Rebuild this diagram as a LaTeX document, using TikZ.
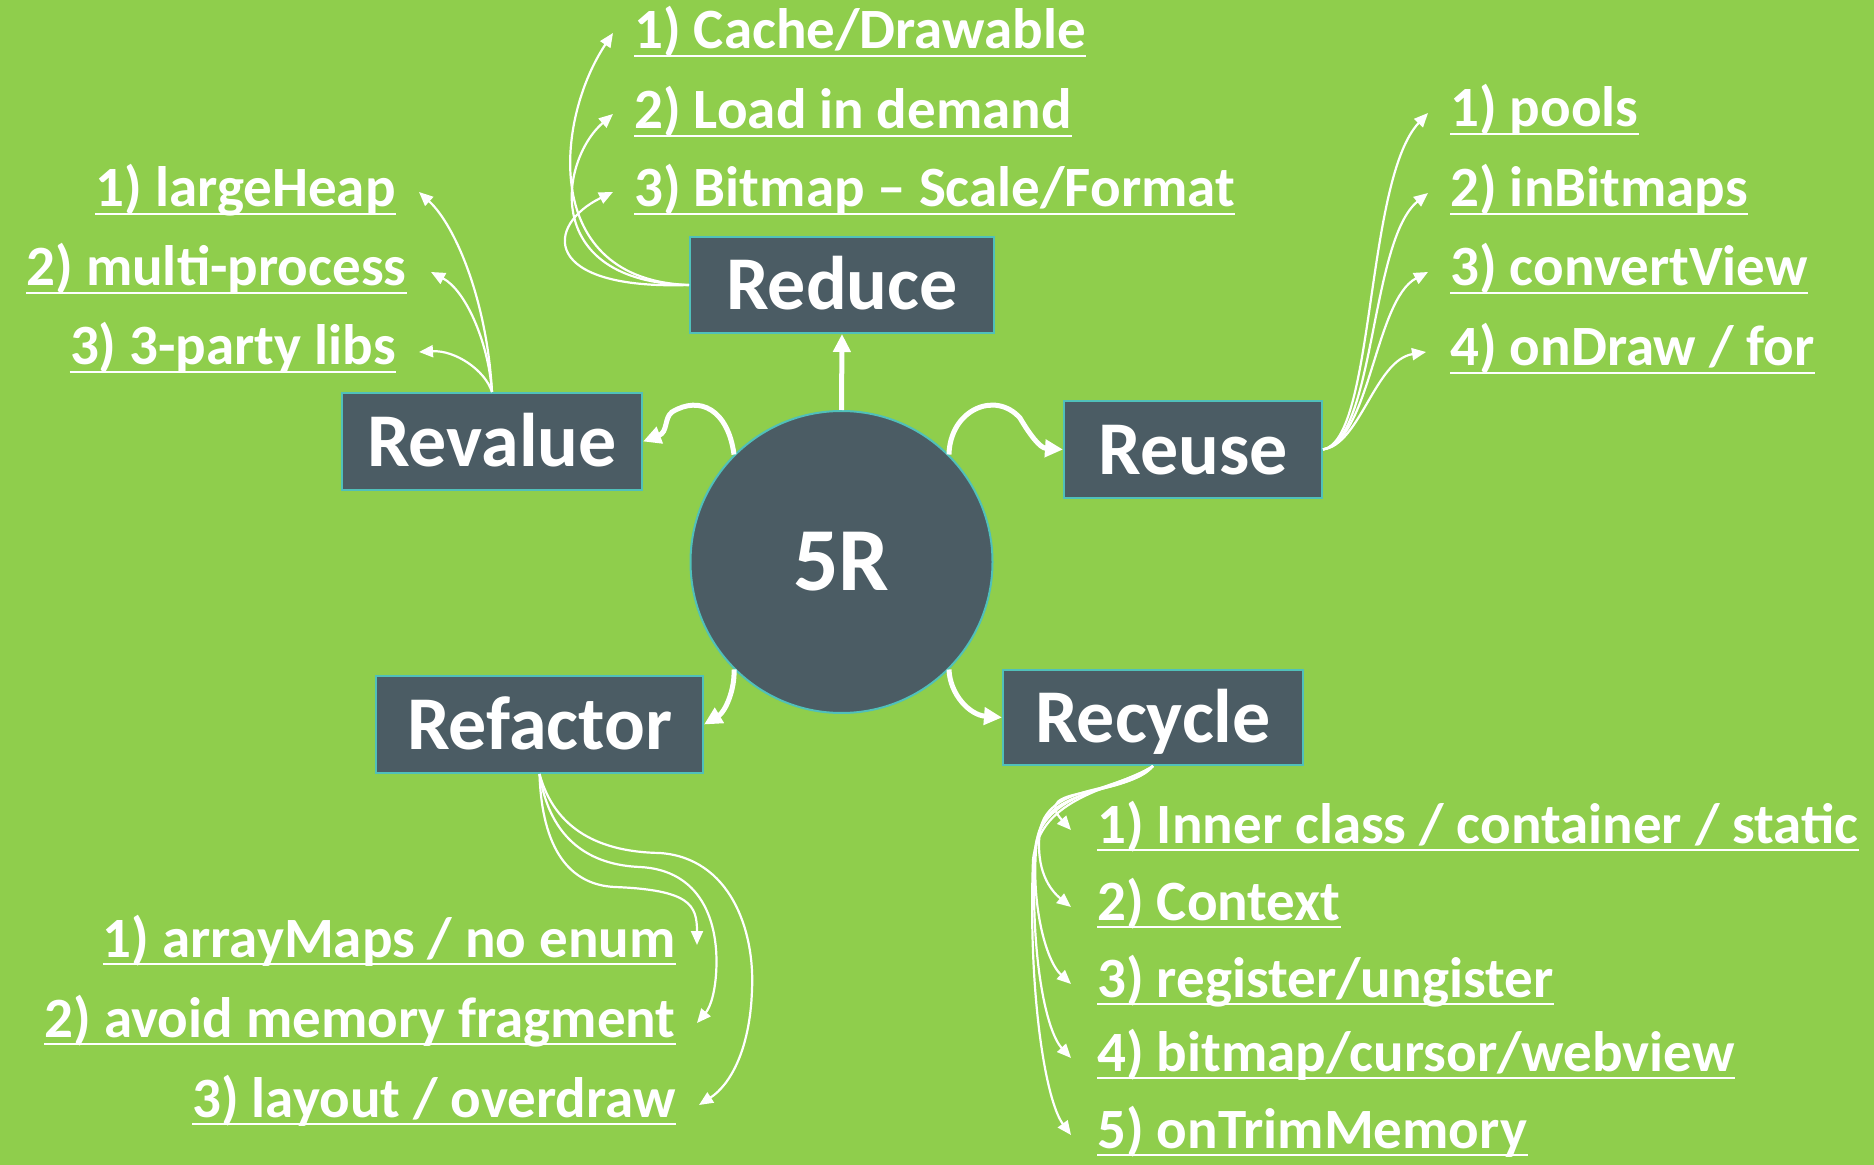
\documentclass[tikz,border=0pt]{standalone}
\usepackage{fontspec}
\setmainfont{Carlito}
\usetikzlibrary{arrows.meta,calc}

\definecolor{bg}{RGB}{143,206,76}
\definecolor{slate}{RGB}{75,92,100}
\definecolor{rim}{RGB}{80,192,186}

\begin{document}
\begin{tikzpicture}[x=0.5pt,y=-0.5pt,
  box/.style={draw=rim, line width=1pt, fill=slate, text=white, inner sep=0pt,
    font=\fontsize{38}{40}\selectfont\bfseries, text height=25pt, text depth=0pt},
  hub/.style={circle, draw=rim, line width=1pt, fill=slate, text=white, inner sep=0pt,
    minimum size=151pt, font=\fontsize{45}{48}\selectfont\bfseries, text height=29pt, text depth=0pt},
  item/.style={inner sep=0pt, text=white, font=\fontsize{28.5}{30}\selectfont\bfseries},
  uline/.style={white, line width=1.3pt},
  link/.style={white, line width=1.1pt, -{Triangle[length=7pt,width=6pt]}},
  spoke/.style={white, line width=2.5pt, -{Triangle[length=9pt,width=8.5pt]}}]

\fill[bg] (0,0) rectangle (1874,1165);
\useasboundingbox (0,0) rectangle (1874,1165);

% centre and the five branches
\node[hub] (hub) at (841.5,562) {5R};
\node[box, minimum width=152pt, minimum height=48pt] (reduce) at (842,285) {Reduce};
\node[box, minimum width=150pt, minimum height=48.5pt] (revalue) at (492,441.5) {Revalue};
\node[box, minimum width=129pt, minimum height=48.5pt] (reuse) at (1193,449.5) {Reuse};
\node[box, minimum width=163.5pt, minimum height=48.5pt] (refactor) at (539.5,724.5) {Refactor};
\node[box, minimum width=150pt, minimum height=47.5pt] (recycle) at (1153,717.5) {Recycle};

% Reduce items
\node[item, anchor=base west] (rd1) at (634,49) {1) Cache/Drawable};
\node[item, anchor=base west] (rd2) at (634,129) {2) Load in demand};
\node[item, anchor=base west] (rd3) at (634,207) {3) Bitmap – Scale/Format};
% Revalue items
\node[item, anchor=base east] (rv1) at (396,207) {1) largeHeap};
\node[item, anchor=base east] (rv2) at (407,286) {2) multi-process};
\node[item, anchor=base east] (rv3) at (396,365) {3) 3-party libs};
% Reuse items
\node[item, anchor=base west] (ru1) at (1450,127) {1) pools};
\node[item, anchor=base west] (ru2) at (1450,207) {2) inBitmaps};
\node[item, anchor=base west] (ru3) at (1450,286) {3) convertView};
\node[item, anchor=base west] (ru4) at (1450,366) {4) onDraw / for};
% Refactor items
\node[item, anchor=base east] (rf1) at (676,957) {1) arrayMaps / no enum};
\node[item, anchor=base east] (rf2) at (676,1037) {2) avoid memory fragment\ };
\node[item, anchor=base east] (rf3) at (676,1117) {3) layout / overdraw};
% Recycle items
\node[item, anchor=base west] (rc1) at (1097,843) {1) Inner class / container / static};
\node[item, anchor=base west] (rc2) at (1097,920) {2) Context};
\node[item, anchor=base west] (rc3) at (1097,997) {3) register/ungister};
\node[item, anchor=base west] (rc4) at (1097,1071) {4) bitmap/cursor/webview};
\node[item, anchor=base west] (rc5) at (1097,1148) {5) onTrimMemory};

% underlines
\foreach \n in {rd1,rd2,rd3,rv1,rv2,rv3,ru1,ru2,ru3,ru4,rf1,rf2,rf3,rc1,rc2,rc3,rc4,rc5}
  \draw[uline] ($(\n.base west)+(0,7)$) -- ($(\n.base east)+(0,7)$);

% spokes from the centre
\draw[spoke] (hub.north) -- (reduce.south);
\draw[spoke] (hub.135) .. controls (728,410) and (700,395) .. (672,412)
  .. controls (664,418) and (668,432) .. (revalue.east);
\draw[spoke] (hub.45) .. controls (950,410) and (995,390) .. (1020,418)
  .. controls (1030,435) and (1040,448) .. (reuse.west);
\draw[spoke] (hub.225) .. controls (735,690) and (725,712) .. (refactor.east);
\draw[spoke] (hub.315) .. controls (950,695) and (970,715) .. (recycle.west);

% Reduce links
\draw[link] (reduce.west) .. controls (540,280) and (555,120) .. ($(rd1.base west)+(-21,-16)$);
\draw[link] (reduce.west) .. controls (540,282) and (560,160) .. ($(rd2.base west)+(-21,-15)$);
\draw[link] (reduce.west) .. controls (540,290) and (545,225) .. ($(rd3.base west)+(-21,-15)$);

% Revalue links
\draw[link] (revalue.north) .. controls (487,300) and (455,225) .. ($(rv1.base east)+(23,-15)$);
\draw[link] (revalue.north) .. controls (488,340) and (465,290) .. ($(rv2.base east)+(24,-14)$);
\draw[link] (revalue.north) .. controls (485,370) and (455,350) .. ($(rv3.base east)+(23,-13)$);

% Reuse links
\draw[link] (reuse.east) .. controls (1375,440) and (1365,180) .. ($(ru1.base west)+(-22,-14)$);
\draw[link] (reuse.east) .. controls (1375,440) and (1370,240) .. ($(ru2.base west)+(-22,-14)$);
\draw[link] (reuse.east) .. controls (1370,440) and (1375,300) .. ($(ru3.base west)+(-22,-14)$);
\draw[link] (reuse.east) .. controls (1360,445) and (1375,360) .. ($(ru4.base west)+(-24,-14)$);

% Refactor links
\draw[link] (refactor.south) .. controls (542,850) and (570,885) .. (615,887)
  .. controls (690,890) and (697,905) .. ($(rf1.base east)+(21,-12)$);
\draw[link] (refactor.south) .. controls (550,840) and (590,865) .. (640,867)
  .. controls (700,870) and (720,920) .. (716,975)
  .. controls (714,1000) and (708,1010) .. ($(rf2.base east)+(21,-14)$);
\draw[link] (refactor.south) .. controls (555,830) and (600,852) .. (660,853)
  .. controls (730,858) and (755,930) .. (752,990)
  .. controls (750,1050) and (730,1085) .. ($(rf3.base east)+(23,-12)$);

% Recycle links
\draw[link] (recycle.south) .. controls (1120,800) and (1030,785) .. ($(rc1.base west)+(-26,-13)$);
\draw[link] (recycle.south) .. controls (1130,795) and (1050,780) .. (1040,830)
  .. controls (1035,870) and (1050,890) .. ($(rc2.base west)+(-26,-13)$);
\draw[link] (recycle.south) .. controls (1125,795) and (1045,785) .. (1037,840)
  .. controls (1030,900) and (1045,960) .. ($(rc3.base west)+(-26,-13)$);
\draw[link] (recycle.south) .. controls (1120,790) and (1040,790) .. (1035,850)
  .. controls (1030,950) and (1045,1030) .. ($(rc4.base west)+(-26,-13)$);
\draw[link] (recycle.south) .. controls (1115,790) and (1040,795) .. (1033,860)
  .. controls (1028,990) and (1045,1100) .. ($(rc5.base west)+(-26,-13)$);
\end{tikzpicture}
\end{document}
